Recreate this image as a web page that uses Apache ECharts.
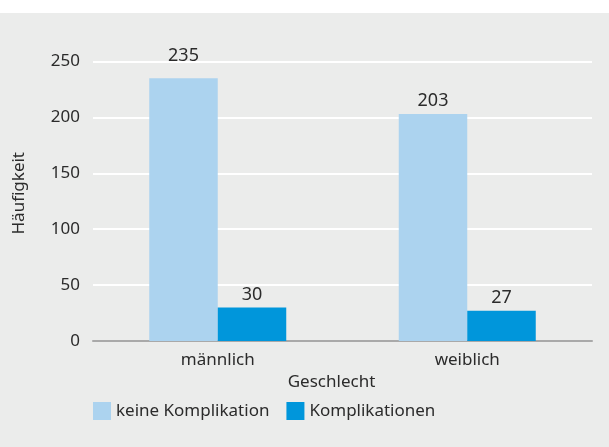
<!DOCTYPE html>
<html>
<head>
<meta charset="utf-8">
<script src="https://cdn.jsdelivr.net/npm/echarts@6/dist/echarts.min.js"></script>
<style>
    html, body { margin: 0; padding: 0; background: #ffffff; }
    #chart { position: absolute; left: 0; top: 13px; width: 609px; height: 434px; }
</style>
</head>
<body>
<div id="chart"></div>
<script>
// Werte aus der Abbildung
var categories = ['männlich', 'weiblich'];
var seriesNames = ['keine Komplikation', 'Komplikationen'];
var keineKomplikation = [235, 203];
var komplikationen = [30, 27];
var yTicks = [0, 50, 100, 150, 200, 250];

var fontFamily = '"Noto Sans", sans-serif';
var textColor = '#2b2b2b';

// label that would touch the 250 line sits a bit higher in the original
function toBarData(values) {
    return values.map(function (v) {
        if (v > 225) {
            return { value: v, label: { distance: 13 } };
        }
        return v;
    });
}

var option = {
    backgroundColor: '#ebeceb',
    animation: false,
    textStyle: {
        fontFamily: fontFamily
    },
    legend: {
        left: 88,
        top: 384,
        itemWidth: 18,
        itemHeight: 18,
        itemGap: 17,
        icon: 'rect',
        data: seriesNames,
        textStyle: {
            color: textColor,
            fontSize: 17,
            fontFamily: fontFamily
        }
    },
    grid: {
        left: 93,
        right: 17,
        top: 48.5,
        bottom: 106,
        containLabel: false
    },
    xAxis: {
        type: 'category',
        data: categories,
        name: 'Geschlecht',
        nameLocation: 'middle',
        nameGap: 33,
        nameTextStyle: {
            color: textColor,
            fontSize: 17,
            padding: [0, 22, 0, 0]
        },
        axisLine: {
            lineStyle: { color: '#a9a9a9', width: 2 }
        },
        axisTick: { show: false },
        axisLabel: {
            color: textColor,
            fontSize: 17,
            margin: 11
        }
    },
    yAxis: {
        type: 'value',
        min: yTicks[0],
        max: yTicks[yTicks.length - 1],
        interval: 50,
        name: 'Häufigkeit',
        nameLocation: 'middle',
        nameGap: 65,
        nameTextStyle: {
            color: textColor,
            fontSize: 17,
            padding: [0, 0, 0, 16]
        },
        axisLine: { show: false },
        axisTick: { show: false },
        axisLabel: {
            color: textColor,
            fontSize: 17,
            margin: 13
        },
        splitLine: {
            lineStyle: { color: '#ffffff', width: 2 }
        }
    },
    series: [
        {
            name: seriesNames[0],
            type: 'bar',
            data: toBarData(keineKomplikation),
            barWidth: 68.5,
            barGap: '0%',
            itemStyle: { color: '#acd3ef' },
            label: {
                show: true,
                position: 'top',
                distance: 4,
                color: textColor,
                fontSize: 18
            }
        },
        {
            name: seriesNames[1],
            type: 'bar',
            data: toBarData(komplikationen),
            barWidth: 68.5,
            barGap: '0%',
            itemStyle: { color: '#0096db' },
            label: {
                show: true,
                position: 'top',
                distance: 4,
                color: textColor,
                fontSize: 18
            }
        }
    ]
};

var chart = echarts.init(document.getElementById('chart'));
chart.setOption(option);
</script>
</body>
</html>
